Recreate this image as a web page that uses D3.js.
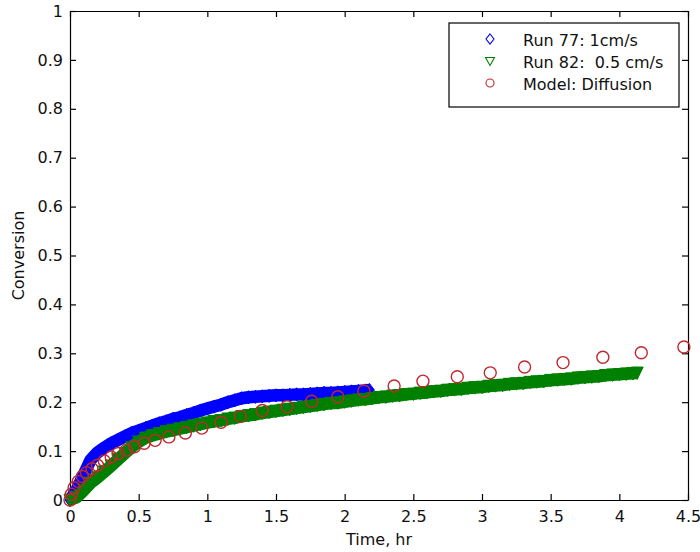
<!DOCTYPE html>
<html>
<head>
<meta charset="utf-8">
<script src="https://cdn.jsdelivr.net/npm/d3@7"></script>
<style>
  html, body { margin: 0; padding: 0; background: #ffffff; }
  svg { display: block; }
</style>
</head>
<body>
<div id="chart"></div>
<script>
// ---------------- DATA ----------------
const run77Time = [0, 0.05, 0.10, 0.15, 0.20, 0.25, 0.30, 0.35, 0.40, 0.45, 0.50, 0.55, 0.60, 0.65, 0.70, 0.75,
  0.80, 0.85, 0.90, 0.95, 1.00, 1.05, 1.10, 1.15, 1.20, 1.25, 1.30, 1.35, 1.40, 1.45, 1.50, 1.55, 1.60, 1.65,
  1.70, 1.75, 1.80, 1.85, 1.90, 1.95, 2.00, 2.05, 2.10, 2.15, 2.18];
const run77Conv = [0.000, 0.022, 0.052, 0.082, 0.097, 0.107, 0.116, 0.123, 0.130, 0.137, 0.142, 0.147, 0.152, 0.157, 0.161, 0.166,
  0.169, 0.174, 0.178, 0.183, 0.187, 0.191, 0.195, 0.200, 0.204, 0.208, 0.210, 0.211, 0.212, 0.213, 0.214, 0.214, 0.215, 0.216,
  0.216, 0.217, 0.218, 0.219, 0.219, 0.220, 0.221, 0.222, 0.223, 0.224, 0.225];

const run82Time = [0, 0.05, 0.10, 0.15, 0.20, 0.25, 0.30, 0.35, 0.40, 0.45, 0.50, 0.55, 0.60, 0.65, 0.70, 0.75,
  0.80, 0.85, 0.90, 0.95, 1.00, 1.05, 1.10, 1.15, 1.20, 1.25, 1.30, 1.35, 1.40, 1.45, 1.50, 1.55, 1.60, 1.65,
  1.70, 1.75, 1.80, 1.85, 1.90, 1.95, 2.00, 2.05, 2.10, 2.15, 2.20, 2.25, 2.30, 2.35, 2.40, 2.45, 2.50, 2.55,
  2.60, 2.65, 2.70, 2.75, 2.80, 2.85, 2.90, 2.95, 3.00, 3.05, 3.10, 3.15, 3.20, 3.25, 3.30, 3.35, 3.40, 3.45,
  3.50, 3.55, 3.60, 3.65, 3.70, 3.75, 3.80, 3.85, 3.90, 3.95, 4.00, 4.05, 4.10, 4.13];
const run82Conv = [0.000, 0.006, 0.020, 0.035, 0.046, 0.058, 0.070, 0.083, 0.096, 0.108, 0.119, 0.127, 0.132, 0.136, 0.140, 0.143,
  0.146, 0.149, 0.152, 0.155, 0.158, 0.161, 0.163, 0.166, 0.168, 0.171, 0.173, 0.175, 0.178, 0.180, 0.182, 0.184, 0.186, 0.188,
  0.190, 0.192, 0.194, 0.196, 0.198, 0.199, 0.201, 0.203, 0.205, 0.206, 0.208, 0.210, 0.211, 0.213, 0.214, 0.216, 0.217, 0.219,
  0.220, 0.222, 0.223, 0.225, 0.226, 0.227, 0.229, 0.230, 0.231, 0.233, 0.234, 0.235, 0.237, 0.238, 0.239, 0.241, 0.242, 0.243,
  0.245, 0.246, 0.247, 0.248, 0.250, 0.251, 0.252, 0.253, 0.255, 0.256, 0.257, 0.258, 0.259, 0.260];

const modelTime = [0.00, 0.01, 0.03, 0.06, 0.09, 0.12, 0.16, 0.20, 0.25, 0.30, 0.35, 0.41, 0.47, 0.54, 0.62, 0.72,
  0.84, 0.96, 1.10, 1.24, 1.40, 1.58, 1.76, 1.95, 2.14, 2.36, 2.57, 2.82, 3.06, 3.31, 3.59, 3.88, 4.16, 4.47];
const modelConv = [0.000, 0.012, 0.025, 0.038, 0.048, 0.056, 0.064, 0.071, 0.080, 0.088, 0.095, 0.102, 0.109, 0.116, 0.122, 0.129,
  0.137, 0.147, 0.159, 0.171, 0.183, 0.191, 0.202, 0.211, 0.223, 0.233, 0.243, 0.252, 0.260, 0.272, 0.281, 0.292, 0.301, 0.313];

const xTickValues = [0, 0.5, 1, 1.5, 2, 2.5, 3, 3.5, 4, 4.5];
const xTickLabels = ["0", "0.5", "1", "1.5", "2", "2.5", "3", "3.5", "4", "4.5"];
const yTickValues = [0, 0.1, 0.2, 0.3, 0.4, 0.5, 0.6, 0.7, 0.8, 0.9, 1];
const yTickLabels = ["0", "0.1", "0.2", "0.3", "0.4", "0.5", "0.6", "0.7", "0.8", "0.9", "1"];

const seriesNames = ["Run 77: 1cm/s", "Run 82:  0.5 cm/s", "Model: Diffusion"];
const xTitle = "Time, hr";
const yTitle = "Conversion";

// ---------------- LAYOUT ----------------
const W = 700, H = 552;
const plotL = 70, plotR = 688, plotT = 11, plotB = 500;
const FONT = "DejaVu Sans";
const BLUE = "#0000ff", GREEN = "#008000", RED = "#c0282d";

const svg = d3.select("#chart").append("svg")
  .attr("width", W).attr("height", H)
  .attr("viewBox", `0 0 ${W} ${H}`);
svg.append("rect").attr("width", W).attr("height", H).attr("fill", "#ffffff");

const x = d3.scaleLinear().domain([0, 4.5]).range([plotL, plotR]);
const y = d3.scaleLinear().domain([0, 1]).range([plotB, plotT]);

// ---------------- AXES (box with inward ticks) ----------------
function styleAxis(g) {
  g.attr("font-family", FONT).attr("font-size", 16);
  g.selectAll("path.domain").attr("stroke", "#000").attr("stroke-width", 1.2);
  g.selectAll(".tick line").attr("stroke", "#000").attr("stroke-width", 1.2);
  g.selectAll(".tick text").attr("fill", "#111");
}

svg.append("g").attr("transform", `translate(0,${plotB})`)
  .call(d3.axisBottom(x).tickValues(xTickValues).tickFormat((d, i) => xTickLabels[i])
    .tickSizeInner(-6).tickSizeOuter(0).tickPadding(10.5))
  .call(styleAxis);

svg.append("g").attr("transform", `translate(0,${plotT})`)
  .call(d3.axisTop(x).tickValues(xTickValues).tickFormat("")
    .tickSizeInner(-6).tickSizeOuter(0))
  .call(styleAxis);

svg.append("g").attr("transform", `translate(${plotL},0)`)
  .call(d3.axisLeft(y).tickValues(yTickValues).tickFormat((d, i) => yTickLabels[i])
    .tickSizeInner(-6).tickSizeOuter(0).tickPadding(7))
  .call(styleAxis);

svg.append("g").attr("transform", `translate(${plotR},0)`)
  .call(d3.axisRight(y).tickValues(yTickValues).tickFormat("")
    .tickSizeInner(-6).tickSizeOuter(0))
  .call(styleAxis);

// axis titles
svg.append("text")
  .attr("x", (plotL + plotR) / 2).attr("y", 545)
  .attr("text-anchor", "middle")
  .attr("font-family", FONT).attr("font-size", 16).attr("fill", "#111")
  .text(xTitle);

svg.append("text")
  .attr("transform", `translate(24,${(plotT + plotB) / 2}) rotate(-90)`)
  .attr("text-anchor", "middle")
  .attr("font-family", FONT).attr("font-size", 16).attr("fill", "#111")
  .text(yTitle);

// ---------------- MARKERS ----------------
const diamondPath = (w, h) => `M0,${-h}L${w},0L0,${h}L${-w},0Z`;
const triDownPath = (w, h1, h2) => `M${-w},${-h1}L${w},${-h1}L0,${h2}Z`;

const run77 = run77Time.map((t, i) => [t, run77Conv[i]]);
const run82 = run82Time.map((t, i) => [t, run82Conv[i]]);
const model = modelTime.map((t, i) => [t, modelConv[i]]);

const line = d3.line().x(d => x(d[0])).y(d => y(d[1]));

// Run 77 : dense blue diamonds forming a thick band
const g77 = svg.append("g");
g77.append("path").datum(run77).attr("d", line)
  .attr("fill", "none").attr("stroke", BLUE).attr("stroke-width", 12.5)
  .attr("stroke-linejoin", "round");
g77.selectAll("path.m").data(run77).join("path").attr("class", "m")
  .attr("transform", d => `translate(${x(d[0])},${y(d[1])})`)
  .attr("d", diamondPath(5, 6.6))
  .attr("fill", BLUE).attr("stroke", BLUE).attr("stroke-width", 1);

// Run 82 : dense green down-triangles forming a thick band
const g82 = svg.append("g");
g82.append("path").datum(run82).attr("d", line)
  .attr("fill", "none").attr("stroke", GREEN).attr("stroke-width", 12.5)
  .attr("stroke-linejoin", "round");
g82.selectAll("path.m").data(run82).join("path").attr("class", "m")
  .attr("transform", d => `translate(${x(d[0])},${y(d[1])})`)
  .attr("d", triDownPath(6, 5.8, 6.6))
  .attr("fill", GREEN).attr("stroke", GREEN).attr("stroke-width", 1);

// Model : hollow red circles
svg.append("g").selectAll("circle").data(model).join("circle")
  .attr("cx", d => x(d[0])).attr("cy", d => y(d[1])).attr("r", 6)
  .attr("fill", "none").attr("stroke", RED).attr("stroke-width", 1.4);

// ---------------- LEGEND ----------------
const lg = svg.append("g");
lg.append("rect").attr("x", 449).attr("y", 23).attr("width", 230).attr("height", 84)
  .attr("fill", "#ffffff").attr("stroke", "#000").attr("stroke-width", 1.2);

const rowsY = [39, 61, 83];
lg.append("path").attr("transform", `translate(490,${rowsY[0]})`)
  .attr("d", diamondPath(4, 5)).attr("fill", "none").attr("stroke", BLUE).attr("stroke-width", 1.1);
lg.append("path").attr("transform", `translate(490,${rowsY[1]})`)
  .attr("d", triDownPath(4.5, 3.5, 4.5)).attr("fill", "none").attr("stroke", GREEN).attr("stroke-width", 1.1);
lg.append("circle").attr("cx", 490).attr("cy", rowsY[2]).attr("r", 4)
  .attr("fill", "none").attr("stroke", RED).attr("stroke-width", 1.1);

lg.selectAll("text").data(seriesNames).join("text")
  .attr("x", 523).attr("y", (d, i) => rowsY[i] + 7)
  .attr("font-family", FONT).attr("font-size", 16).attr("fill", "#111")
  .style("white-space", "pre")
  .text(d => d);
</script>
</body>
</html>
